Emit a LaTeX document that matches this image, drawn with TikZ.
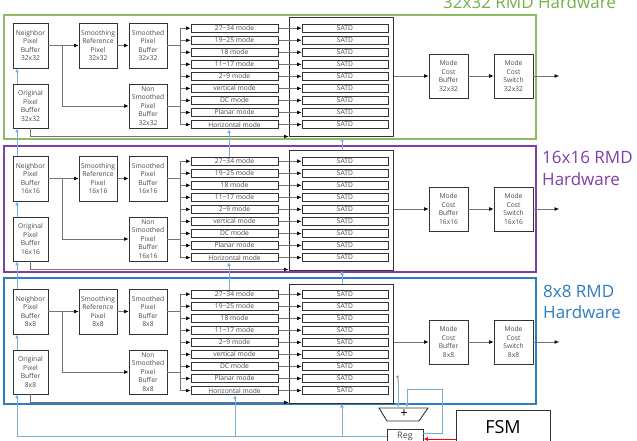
\documentclass[tikz,border=0pt]{standalone}
\usepackage{fontspec}
\setmainfont{Open Sans}
\usetikzlibrary{arrows.meta,calc}
\definecolor{gfr}{HTML}{8CBB64}
\definecolor{gtx}{HTML}{74B04A}
\definecolor{pfr}{HTML}{7F3FA8}
\definecolor{bfr}{HTML}{2E7CC0}
\definecolor{bln}{HTML}{78AEDC}
\definecolor{txt}{HTML}{4A4A4A}
\definecolor{bdr}{HTML}{333333}
\tikzset{
 blk/.style={draw=bdr, line width=0.9pt, fill=white, text=txt, font=\fontsize{6.7}{8.5}\selectfont, align=center, inner sep=0pt},
 rowbox/.style={draw=bdr, line width=1pt, fill=white, minimum height=8.3pt, inner sep=0pt, text=txt, font=\fontsize{6.7}{7}\selectfont},
 conn/.style={draw=black!55, line width=0.5pt, -{Latex[length=4.5pt,width=3.8pt,color=black]}},
 plain/.style={draw=black!55, line width=0.5pt},
 fb/.style={draw=bln, line width=0.8pt},
 fba/.style={draw=bln, line width=0.8pt, -{Latex[length=4pt,width=3.8pt]}},
 bigtxt/.style={font=\fontsize{17}{21}\selectfont, inner sep=0pt, anchor=base west},
}
\begin{document}
\begin{tikzpicture}[x=1pt,y=-1pt]
\useasboundingbox (0,0) rectangle (637,441);
% frames
\draw[gfr, line width=1.4pt] (4,15) rectangle (536,139);
\draw[pfr, line width=1.4pt] (4,146) rectangle (536,272);
\draw[bfr, line width=1.6pt] (4,278) rectangle (536,404);
\node[bigtxt, text=gtx] (lab32) at (443,9) {32x32 RMD Hardware};
\node[bigtxt, text=pfr] (lab16a) at (542,163) {16x16 RMD};
\node[bigtxt, text=pfr] (lab16b) at (542,185) {Hardware};
\node[bigtxt, text=bfr] (lab8a) at (543,297) {8x8 RMD};
\node[bigtxt, text=bfr] (lab8b) at (543,318) {Hardware};
\coordinate (F) at (180,0);
\coordinate (L) at (17,0);
\coordinate (H) at (229,0);
\coordinate (H8) at (235,0);
\coordinate (C) at (342,0);
\foreach \o/\s in {0/32x32,133/16x16,266/8x8}{
 \begin{scope}[shift={(0,\o)}]
  \node[blk, minimum width=35pt, minimum height=45pt] (nb\s) at (30.5,45.5) {Neighbor\\Pixel\\Buffer\\\s};
  \node[blk, minimum width=35pt, minimum height=44pt] (ob\s) at (30.5,106) {Original\\Pixel\\Buffer\\\s};
  \node[blk, minimum width=38pt, minimum height=45pt] (sr\s) at (98,45.5) {Smoothing\\Reference\\Pixel\\\s};
  \node[blk, minimum width=38pt, minimum height=45pt] (sb\s) at (148,45.5) {Smoothed\\Pixel\\Buffer\\\s};
  \node[blk, minimum width=38pt, minimum height=44pt] (ns\s) at (148,106) {Non\\Smoothed\\Pixel\\Buffer\\\s};
  \node[draw=bdr, line width=1pt, fill=white, minimum width=104pt, minimum height=119pt, inner sep=0pt] (ct\s) at (341,77.5) {};
  \node[blk, minimum width=39pt, minimum height=44pt] (mcb\s) at (448.5,76) {Mode\\Cost\\Buffer\\\s};
  \node[blk, minimum width=39pt, minimum height=44pt] (mcs\s) at (513.5,76) {Mode\\Cost\\Switch\\\s};
  \coordinate (out\s) at (559,76);
  \coordinate (br\s) at (62,45.5);
  \foreach \m [count=\i] in {27\textasciitilde34 mode,19\textasciitilde25 mode,18 mode,11\textasciitilde17 mode,2\textasciitilde9 mode,vertical mode,DC mode,Planar mode,Horizontal mode}{
    \pgfmathsetmacro\yy{28.2+12.04*(\i-1)}
    \node[rowbox, minimum width=87pt] (m\s-\i) at (234.5,\yy) {\m};
    \node[rowbox, minimum width=86pt] (sa\s-\i) at (345,\yy) {SATD};
    \draw[conn] (m\s-\i.west -| F) -- (m\s-\i.west);
    \draw[conn] (m\s-\i.east) -- (sa\s-\i.west);
  }
  \draw[conn] (nb\s.east) -- (sr\s.west);
  \draw[conn] (br\s) |- (ns\s.west);
  \draw[conn] (sr\s.west -| sr\s.east) -- (sb\s.west);
  \draw[plain] (sb\s.east) -- (sb\s.east -| F);
  \draw[plain] (ns\s.east) -- (ns\s.east -| F);
  \draw[plain] (m\s-1.west -| F) -- (m\s-9.west -| F);
  \draw[conn] (ob\s.south) |- ([yshift=1pt]ct\s.south west);
  \draw[conn] (ct\s.east |- mcb\s.west) -- (mcb\s.west);
  \draw[conn] (mcb\s.east) -- (mcs\s.west);
  \draw[conn] (mcs\s.east) -- (out\s);
 \end{scope}
}
% bottom control
\node[font=\fontsize{9}{10}\selectfont, text=black!70, inner sep=0pt] (one) at (398,379) {1};
\node[font=\fontsize{13}{13}\selectfont, inner sep=0pt] (add) at (404,414) {+};
\draw[bdr, line width=0.9pt] (379,408) -- (428,408) -- (419,421) -- (387,421) -- cycle;
\coordinate (a1) at (398,407.5);
\coordinate (a2) at (407,407.5);
\coordinate (fbk) at (442,389);
\node[draw=bdr, line width=0.9pt, fill=white, minimum width=36pt, minimum height=14pt, inner sep=0pt, font=\fontsize{9}{10}\selectfont, text=txt] (reg) at (405,436) {Reg};
\node[draw=bdr, line width=0.9pt, minimum width=94pt, minimum height=34pt, inner sep=0pt, font=\fontsize{18}{20}\selectfont] (fsm) at (503,427) {FSM};
\coordinate (rin) at ([yshift=-3pt]reg.east);
\coordinate (rfb) at ([yshift=3pt]reg.east);
\draw[red, line width=0.8pt, -{Latex[length=4.5pt,width=4pt]}] (rin -| fsm.west) -- (rin);
\draw[fba] (one.south) -- (a1);
\draw[fba] (rfb) -| (fbk) -| (a2);
% feedback lines
\draw[fba] (reg.west) -| (ob8x8.south -| L);
\draw[fba] (reg.west -| H8) -- (m8x8-9.south -| H8);
\draw[fba] (reg.west -| C) -- (ct8x8.south -| C);
\draw[fba] (ob8x8.north -| L) -- (nb8x8.south -| L);
\draw[fba] (nb8x8.north -| L) -- (ob16x16.south -| L);
\draw[fba] (ob16x16.north -| L) -- (nb16x16.south -| L);
\draw[fba] (nb16x16.north -| L) -- (ob32x32.south -| L);
\draw[fba] (ob32x32.north -| L) -- (nb32x32.south -| L);
\draw[fba] (m8x8-1.north -| H) -- (m16x16-9.south -| H);
\draw[fba] (m16x16-1.north -| H) -- (m32x32-9.south -| H);
\draw[fba] (ct8x8.north -| C) -- (ct16x16.south -| C);
\draw[fba] (ct16x16.north -| C) -- (ct32x32.south -| C);
\end{tikzpicture}
\end{document}
